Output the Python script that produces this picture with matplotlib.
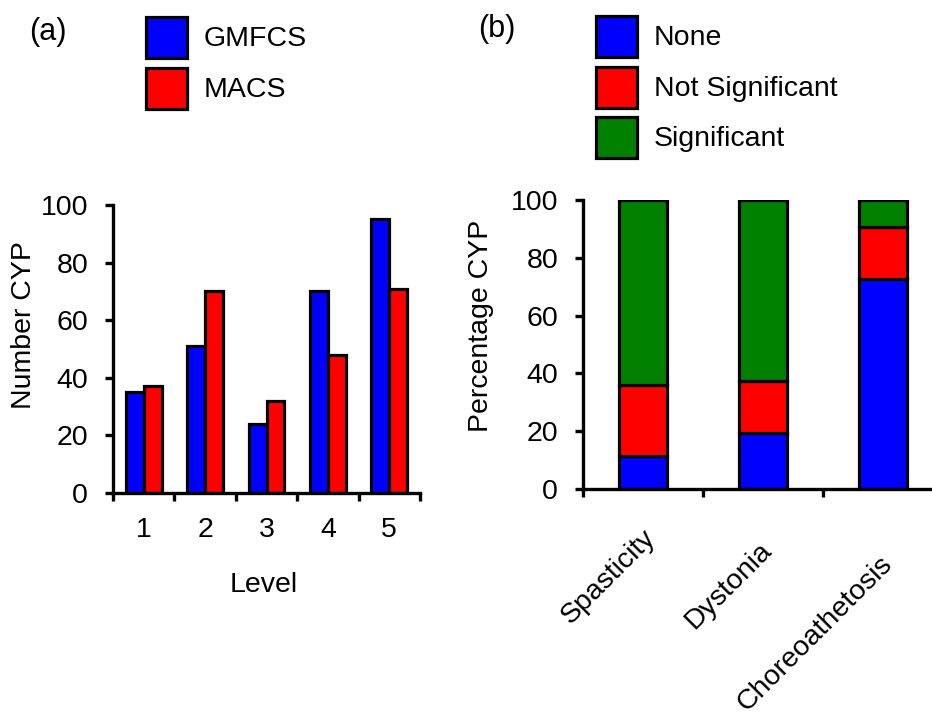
import matplotlib
matplotlib.use("Agg")
import matplotlib.pyplot as plt
from matplotlib.patches import Rectangle
from matplotlib.transforms import ScaledTranslation
import numpy as np

plt.rcParams['font.family'] = ['Liberation Sans', 'DejaVu Sans']

# (a) number of CYP per level
levels = [1, 2, 3, 4, 5]
gmfcs = [35, 51, 24, 70, 95]
macs = [37, 70, 32, 48, 71]

# (b) percentage of CYP per movement disorder
disorders = ['Spasticity', 'Dystonia', 'Choreoathetosis']
none_pct = [11.5, 19.5, 72.5]
notsig_pct = [24.5, 18, 18]
sig_pct = [64, 62.5, 9.5]

BLUE, RED, GREEN = '#0000ff', '#ff0000', '#007f00'
W, H = 932, 715
FS = 20.5

fig = plt.figure(figsize=(W / 100, H / 100), dpi=100)

def px_axes(x0, x1, ytop, ybot):
    return fig.add_axes([x0 / W, 1 - ybot / H, (x1 - x0) / W, (ybot - ytop) / H])

def style(ax):
    for s in ['top', 'right']:
        ax.spines[s].set_visible(False)
    for s in ['left', 'bottom']:
        ax.spines[s].set_linewidth(2.4)
    ax.tick_params(axis='y', length=6, width=2.4, labelsize=FS, pad=12)
    ax.tick_params(axis='x', which='major', length=0, labelsize=FS)
    ax.tick_params(axis='x', which='minor', length=6, width=2.4)
    ax.set_ylim(0, 100)
    ax.set_yticks([0, 20, 40, 60, 80, 100])

# panel (a)
ax1 = px_axes(113, 420, 205, 493)
x = np.array(levels)
bw = 0.29
ax1.bar(x - bw / 2, gmfcs, bw, color=BLUE, edgecolor='black', linewidth=2.3)
ax1.bar(x + bw / 2, macs, bw, color=RED, edgecolor='black', linewidth=2.3)
ax1.set_xlim(0.5, 5.5)
style(ax1)
ax1.set_xticks(levels)
ax1.set_xticks(np.arange(0.5, 6, 1), minor=True)
ax1.tick_params(axis='x', which='major', pad=17)
fig.text(24 / W, 1 - 325 / H, 'Number CYP', fontsize=FS, rotation=90,
         ha='center', va='center')
fig.text(264 / W, 1 - 585 / H, 'Level', fontsize=FS, ha='center', va='center')

# panel (b)
ax2 = px_axes(583, 943, 200, 489)
xb = np.arange(1, len(disorders) + 1)
bw2 = 0.4
bottom2 = np.array(none_pct) + np.array(notsig_pct)
ax2.bar(xb, none_pct, bw2, color=BLUE, edgecolor='black', linewidth=2.3)
ax2.bar(xb, notsig_pct, bw2, bottom=none_pct, color=RED, edgecolor='black', linewidth=2.3)
ax2.bar(xb, sig_pct, bw2, bottom=bottom2, color=GREEN, edgecolor='black', linewidth=2.3)
ax2.set_xlim(0.5, 3.5)
style(ax2)
ax2.set_xticks(xb)
ax2.set_xticks([0.5, 1.5, 2.5], minor=True)
ax2.set_xticklabels(disorders, rotation=45, ha='right', va='center',
                    rotation_mode='anchor')
ax2.tick_params(axis='x', which='major', pad=22)
# small per-label shifts (pixels) to follow the original placement
shifts = [(8, -14), (5, -27), (5, -41)]
for lab, (dx, dy) in zip(ax2.get_xticklabels(), shifts):
    lab.set_transform(lab.get_transform() + ScaledTranslation(dx / 100, dy / 100, fig.dpi_scale_trans))
fig.text(481 / W, 1 - 326 / H, 'Percentage CYP', fontsize=FS, rotation=90,
         ha='center', va='center')

# panel letters
fig.text(48 / W, 1 - 32 / H, '(a)', fontsize=22, ha='center', va='center')
fig.text(497 / W, 1 - 29 / H, '(b)', fontsize=22, ha='center', va='center')

# legends drawn as boxes + labels
def legend_entry(x0, ytop, color, label):
    fig.patches.append(Rectangle((x0 / W, 1 - (ytop + 41) / H), 41 / W, 41 / H,
                                 transform=fig.transFigure, facecolor=color,
                                 edgecolor='black', linewidth=2.3))
    fig.text((x0 + 58) / W, 1 - (ytop + 22) / H, label, fontsize=FS, va='center')

legend_entry(146, 17, BLUE, 'GMFCS')
legend_entry(146, 68, RED, 'MACS')
legend_entry(596, 16, BLUE, 'None')
legend_entry(596, 67, RED, 'Not Significant')
legend_entry(596, 117, GREEN, 'Significant')

fig.savefig('out.png', dpi=100)
